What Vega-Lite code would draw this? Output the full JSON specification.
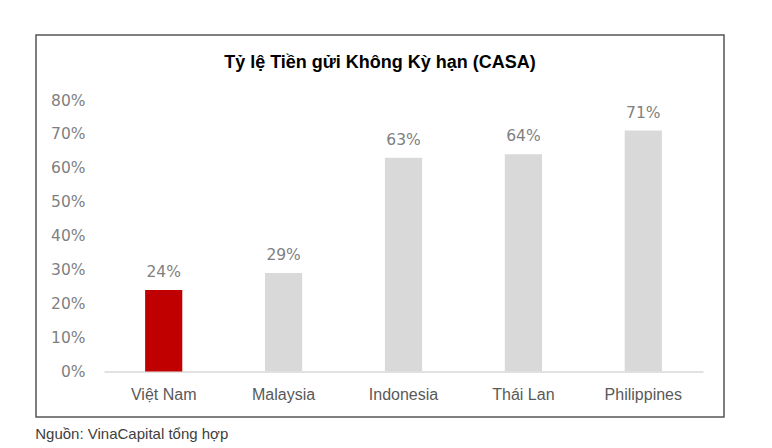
{
  "$schema": "https://vega.github.io/schema/vega-lite/v6.json",
  "padding": {"left": 35, "top": 34, "right": 40, "bottom": 4},
  "background": "white",
  "title": {"text": "Nguồn: VinaCapital tổng hợp", "orient": "bottom", "anchor": "start", "fontSize": 15, "fontWeight": "normal", "font": "Liberation Sans", "color": "#404040", "baseline": "middle", "offset": 16},
  "data": {"values": [
    {"country": "Việt Nam", "casa": 0.24, "group": "vn"},
    {"country": "Malaysia", "casa": 0.29, "group": "other"},
    {"country": "Indonesia", "casa": 0.63, "group": "other"},
    {"country": "Thái Lan", "casa": 0.64, "group": "other"},
    {"country": "Philippines", "casa": 0.71, "group": "other"}
  ]},
  "vconcat": [{
    "width": 688,
    "height": 382,
    "title": {"text": "Tỷ lệ Tiền gửi Không Kỳ hạn (CASA)", "orient": "top", "anchor": "middle", "font": "Liberation Sans Narrow, Liberation Sans", "fontSize": 18, "fontWeight": "bold", "color": "#000000", "baseline": "middle", "offset": -46},
    "encoding": {
      "x": {"field": "country", "type": "nominal", "sort": null,
        "scale": {"range": [68, 667], "paddingInner": 0.69, "paddingOuter": 0.343},
        "axis": {"title": null, "orient": "bottom", "offset": -45.5, "ticks": false, "labelAngle": 0, "labelPadding": 15, "labelFont": "Liberation Sans", "labelFontSize": 16, "labelColor": "#595959", "domainColor": "#D9D9D9", "domainWidth": 1.5}},
      "y": {"field": "casa", "type": "quantitative",
        "scale": {"domain": [0, 0.8], "range": [336.5, 65], "nice": false, "zero": true},
        "axis": {"title": null, "format": ".0%", "values": [0, 0.1, 0.2, 0.3, 0.4, 0.5, 0.6, 0.7, 0.8], "grid": false, "domain": false, "ticks": false, "offset": -49, "labelPadding": 0, "labelFont": "DejaVu Sans", "labelFontSize": 15.5, "labelColor": "#7F7F7F"}}
    },
    "layer": [
      {"mark": {"type": "bar"},
       "encoding": {"color": {"field": "group", "type": "nominal", "scale": {"domain": ["vn", "other"], "range": ["#C00000", "#D9D9D9"]}, "legend": null}}},
      {"mark": {"type": "text", "baseline": "alphabetic", "dy": -13, "font": "DejaVu Sans", "fontSize": 15.5, "color": "#7F7F7F"},
       "encoding": {"text": {"field": "casa", "type": "quantitative", "format": ".0%"}}}
    ]
  }],
  "config": {"view": {"stroke": "#555555", "strokeWidth": 1.5}}
}
